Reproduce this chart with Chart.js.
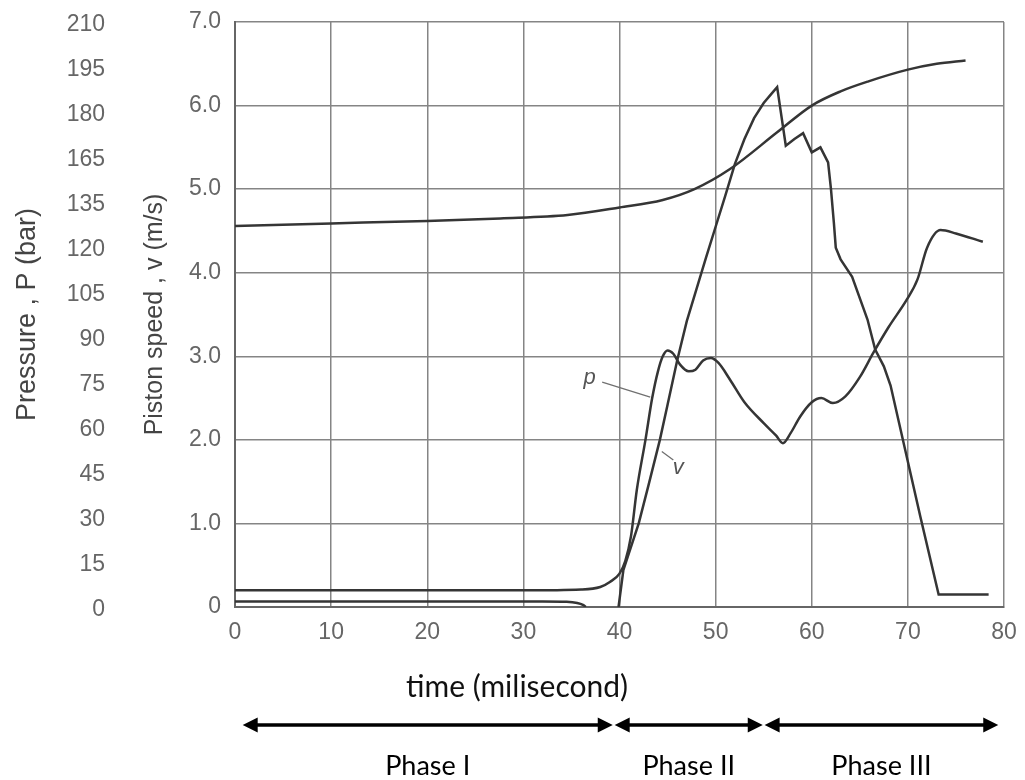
<!DOCTYPE html>
<html>
<head>
<meta charset="utf-8">
<script src="https://cdn.jsdelivr.net/npm/chart.js@4.4.1/dist/chart.umd.min.js"></script>
<style>
  html, body { margin: 0; padding: 0; background: #fff; }
</style>
</head>
<body>
<canvas id="chart" width="1025" height="780"></canvas>
<script>
// values, in ms and on the 0-7 speed scale
const pTime = [0, 30, 36, 38, 39, 40, 40.6, 41.2, 41.8, 42.7, 43.4, 44, 44.5, 45, 45.6, 46.3, 47.2, 47.9, 48.7, 49.5, 50.3, 51.5, 53, 55, 56.3, 57, 57.8, 58.8, 60, 61, 62.2, 63.5, 65, 66.4, 68, 69.9, 71, 72, 73.4, 75, 77.8];
const pValue = [0.2, 0.2, 0.21, 0.24, 0.3, 0.4, 0.55, 0.85, 1.4, 2.0, 2.5, 2.82, 3.0, 3.07, 3.03, 2.9, 2.82, 2.84, 2.95, 2.98, 2.92, 2.72, 2.45, 2.2, 2.05, 1.96, 2.08, 2.28, 2.45, 2.5, 2.44, 2.52, 2.75, 3.04, 3.35, 3.68, 3.92, 4.3, 4.51, 4.47, 4.37];

const vTime = [39.9, 40.4, 41, 42, 43, 44.2, 45, 46, 47, 48, 49, 50, 51, 52, 53, 54, 55, 55.8, 56.4, 57.3, 58.2, 59.1, 60, 60.9, 61.7, 62, 62.3, 62.5, 63, 64.2, 65.8, 66.6, 67.5, 68.2, 71.3, 73.2, 78.4];
const vValue = [0, 0.44, 0.65, 1.0, 1.45, 2.0, 2.42, 2.95, 3.42, 3.8, 4.18, 4.55, 4.92, 5.3, 5.6, 5.85, 6.03, 6.14, 6.22, 5.52, 5.6, 5.67, 5.44, 5.5, 5.32, 5.0, 4.6, 4.3, 4.16, 3.95, 3.44, 3.08, 2.88, 2.65, 1.08, 0.15, 0.15];

const upperTime = [0, 10, 20, 27.6, 34.6, 40, 44.5, 47.8, 51.5, 56.4, 60, 63, 65.9, 70, 73, 76];
const upperValue = [4.56, 4.59, 4.62, 4.65, 4.69, 4.78, 4.87, 5.0, 5.24, 5.68, 6.0, 6.17, 6.29, 6.43, 6.5, 6.54];

const baseTime = [0, 32, 34.5, 35.6, 36.2, 36.5];
const baseValue = [0.065, 0.065, 0.062, 0.048, 0.025, 0];

const speedTicks = ['0', '1.0', '2.0', '3.0', '4.0', '5.0', '6.0', '7.0'];
const pressureTicks = ['0', '15', '30', '45', '60', '75', '90', '105', '120', '135', '165', '180', '195', '210'];

const phaseNames = ['Phase I', 'Phase II', 'Phase III'];
const phaseStart = [0.8, 39.5, 55.1];
const phaseEnd = [39.3, 54.9, 79.4];

const lineColor = '#353535';
const gridColor = '#858585';
const tickColor = '#666';
const tickFont = { family: '"Liberation Sans", Arial, sans-serif', size: 23 };

const pts = (t, v) => t.map((tt, i) => ({ x: tt, y: v[i] }));

const curve = (label, data, tension) => ({
  label,
  data,
  borderColor: lineColor,
  borderWidth: 2.5,
  pointRadius: 0,
  fill: false,
  tension,
  cubicInterpolationMode: tension ? 'monotone' : 'default'
});

// keep the plot frame where the layout padding puts it
const noEdgePadding = (s) => {
  s.paddingTop = 0;
  s.paddingBottom = 0;
  s.paddingLeft = 0;
  s.paddingRight = 0;
};

const drawArrowHead = (ctx, x, y, dir) => {
  ctx.beginPath();
  ctx.moveTo(x, y);
  ctx.lineTo(x - dir * 15, y - 7.5);
  ctx.lineTo(x - dir * 15, y + 7.5);
  ctx.closePath();
  ctx.fill();
};

const figureText = {
  id: 'figureText',
  afterDraw(chart) {
    const { ctx, scales: { x, y } } = chart;
    ctx.save();

    // curve callouts
    ctx.strokeStyle = '#707070';
    ctx.lineWidth = 1.3;
    ctx.beginPath();
    ctx.moveTo(x.getPixelForValue(38.2), y.getPixelForValue(2.69));
    ctx.lineTo(x.getPixelForValue(43.2), y.getPixelForValue(2.51));
    ctx.moveTo(x.getPixelForValue(44.4), y.getPixelForValue(1.86));
    ctx.lineTo(x.getPixelForValue(45.6), y.getPixelForValue(1.76));
    ctx.stroke();
    ctx.font = 'italic 22px "Liberation Sans", Arial, sans-serif';
    ctx.fillStyle = '#555';
    ctx.textAlign = 'center';
    ctx.textBaseline = 'middle';
    ctx.fillText('p', x.getPixelForValue(36.9), y.getPixelForValue(2.74));
    ctx.fillText('v', x.getPixelForValue(46.1), y.getPixelForValue(1.66));

    // x caption and phases
    ctx.fillStyle = '#111';
    ctx.font = '30px Lato, "Open Sans", sans-serif';
    ctx.fillText('time (milisecond)', 517, 687);

    ctx.strokeStyle = '#000';
    ctx.fillStyle = '#000';
    ctx.lineWidth = 3.5;
    ctx.font = '27px Lato, "Open Sans", sans-serif';
    phaseNames.forEach((name, i) => {
      const a = x.getPixelForValue(phaseStart[i]);
      const b = x.getPixelForValue(phaseEnd[i]);
      ctx.beginPath();
      ctx.moveTo(a + 10, 725);
      ctx.lineTo(b - 10, 725);
      ctx.stroke();
      drawArrowHead(ctx, a, 725, -1);
      drawArrowHead(ctx, b, 725, 1);
      ctx.fillText(name, (a + b) / 2, 766);
    });
    ctx.restore();
  }
};

new Chart(document.getElementById('chart'), {
  type: 'line',
  data: {
    datasets: [
      curve('upper', pts(upperTime, upperValue), 0.4),
      curve('p', pts(pTime, pValue), 0.4),
      curve('v', pts(vTime, vValue), 0),
      curve('base', pts(baseTime, baseValue), 0.4)
    ]
  },
  options: {
    responsive: false,
    animation: false,
    layout: { padding: { top: 22, right: 21, left: 0, bottom: 0 } },
    plugins: { legend: { display: false }, tooltip: { enabled: false } },
    scales: {
      x: {
        type: 'linear',
        min: 0,
        max: 80,
        ticks: { stepSize: 10, color: tickColor, font: tickFont, padding: 12 },
        grid: { color: gridColor, lineWidth: 1.5, drawTicks: false },
        border: { color: '#666', width: 2 },
        afterFit: (s) => { s.height = 173; noEdgePadding(s); }
      },
      y: {
        type: 'linear',
        position: 'left',
        weight: 0,
        min: 0,
        max: 7,
        ticks: { stepSize: 1, color: tickColor, font: tickFont, padding: 14, callback: (v, i) => speedTicks[i] },
        grid: { color: gridColor, lineWidth: 1.5, drawTicks: false },
        border: { color: '#666', width: 2 },
        title: { display: true, text: 'Piston speed , v (m/s)', color: '#444', font: { family: '"Liberation Sans", Arial, sans-serif', size: 25 }, padding: { top: 15, bottom: 0 } },
        afterFit: (s) => { s.width = 110; noEdgePadding(s); }
      },
      yP: {
        type: 'linear',
        position: 'left',
        weight: 1,
        min: 0,
        max: 13,
        ticks: { stepSize: 1, autoSkip: false, labelOffset: 3, color: tickColor, font: tickFont, padding: 20, callback: (v, i) => pressureTicks[i] },
        grid: { display: false, drawTicks: false },
        border: { display: false },
        title: { display: true, text: 'Pressure , P (bar)', color: '#444', font: { family: '"Liberation Sans", Arial, sans-serif', size: 27 }, padding: { top: 11, bottom: 0 } },
        afterFit: (s) => { s.width = 125; noEdgePadding(s); }
      }
    }
  },
  plugins: [figureText]
});
</script>
</body>
</html>
